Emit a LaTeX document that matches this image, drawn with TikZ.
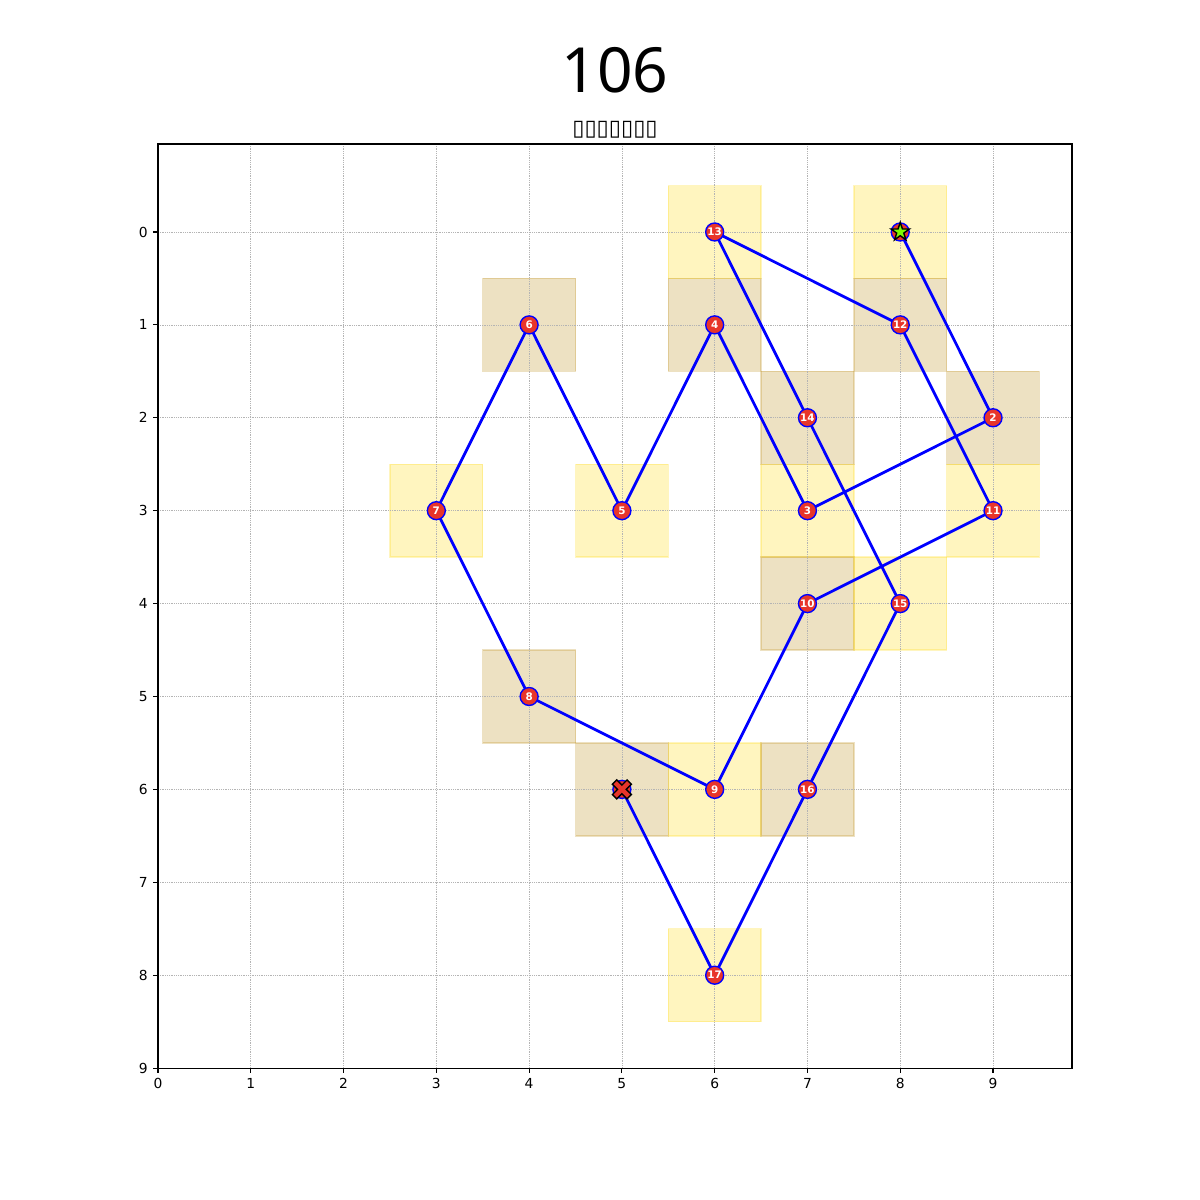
\documentclass[tikz,border=0pt]{standalone}
\usepackage{fontspec}
\setmainfont{DejaVu Sans}
\newfontfamily\titlefont{Noto Sans}
\usetikzlibrary{shapes.geometric}
\definecolor{gold}{HTML}{FFD700}
\definecolor{darkgoldenrod}{HTML}{B8860B}
\definecolor{stopred}{HTML}{E8352A}
\definecolor{routeblue}{HTML}{0000FF}
\definecolor{startgreen}{HTML}{7CFC00}
\definecolor{gridgray}{HTML}{B4B4B4}

\begin{document}
\begin{tikzpicture}[
  x=23.566mm, y=-23.597mm,
  cell/.style={fill=#1, draw=#1, fill opacity=0.25, draw opacity=0.25, line width=1pt},
  route/.style={draw=routeblue, line width=2pt, line join=round},
  stop/.style={circle, fill=stopred, draw=routeblue, line width=1pt,
    minimum size=13pt, inner sep=0pt, text=white,
    font=\fontsize{7.5}{7.5}\selectfont\bfseries},
  startmark/.style={star, star points=5, star point ratio=2.6, fill=startgreen,
    draw=black, line width=1pt, minimum size=14pt, inner sep=0pt},
  endmark/.style={fill=stopred, draw=black, line width=1pt, line join=miter},
  gridline/.style={draw=gridgray, line width=0.5pt, dash pattern=on 0.5pt off 0.8pt},
  axisline/.style={draw=black, line width=0.8pt},
  ticklbl/.style={font=\fontsize{10}{12}\selectfont, inner sep=0pt},
]

% Page bounds (12in square)
\useasboundingbox (-1.703,-2.497) rectangle (11.231,10.420);

% Titles
\node[font=\titlefont\fontsize{45}{50}\selectfont] (title) at (4.926,-1.744) {106};
\node[font=\fontsize{16}{18}\selectfont] (subtitle) at (4.926,-1.098) {▯▯▯▯▯▯▯};

% ============================================================
% Visited cells, coloured by square parity
% ============================================================
\foreach \x/\y in {8/0, 9/2, 7/3, 6/1, 5/3, 4/1, 3/3, 4/5, 6/6,
                   7/4, 9/3, 8/1, 6/0, 7/2, 8/4, 7/6, 6/8, 5/6}{
  \ifodd\numexpr\x+\y\relax \def\cellcol{darkgoldenrod}\else \def\cellcol{gold}\fi
  \path[cell=\cellcol] (\x-0.5,\y-0.5) rectangle (\x+0.5,\y+0.5);
}

% Grid
\foreach \i in {1,...,9}
  \draw[gridline] (\i,-0.947) -- (\i,9);
\foreach \i in {0,...,8}
  \draw[gridline] (0,\i) -- (9.851,\i);

% ============================================================
% Tour of the knight
% ============================================================
\foreach \x/\y [count=\k] in {8/0, 9/2, 7/3, 6/1, 5/3, 4/1, 3/3, 4/5, 6/6,
                              7/4, 9/3, 8/1, 6/0, 7/2, 8/4, 7/6, 6/8, 5/6}
  \coordinate (p\k) at (\x,\y);

\draw[route] (p1) \foreach \k in {2,...,18}{ -- (p\k)};

\foreach \k in {1,...,18}
  \node[stop] (n\k) at (p\k) {\ifnum\k>1 \ifnum\k<18 \k\fi\fi};

% Start and end markers
\node[startmark] (start) at (p1) {};
\begin{scope}[shift={(p18)}, rotate=45, x=1pt, y=1pt]
  \path[endmark] (-2.2,7.5) -- (2.2,7.5) -- (2.2,2.2) -- (7.5,2.2) -- (7.5,-2.2)
    -- (2.2,-2.2) -- (2.2,-7.5) -- (-2.2,-7.5) -- (-2.2,-2.2) -- (-7.5,-2.2)
    -- (-7.5,2.2) -- (-2.2,2.2) -- cycle;
\end{scope}

% ============================================================
% Axes frame and ticks
% ============================================================
\draw[axisline] (0,-0.947) rectangle (9.851,9);
\foreach \i in {0,...,9}{
  \draw[axisline] (\i,9) -- ++(0pt,-3.5pt)
    node[ticklbl, anchor=north, yshift=-3.5pt] (xt\i) {\i};
  \draw[axisline] (0,\i) -- ++(-3.5pt,0pt)
    node[ticklbl, anchor=east, xshift=-3.5pt] (yt\i) {\i};
}

\end{tikzpicture}
\end{document}
